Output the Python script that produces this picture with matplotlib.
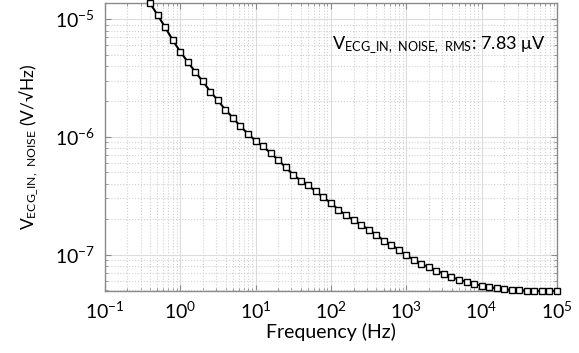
import numpy as np
import matplotlib
matplotlib.use("Agg")
import matplotlib.pyplot as plt
from matplotlib.ticker import LogLocator, NullFormatter

plt.rcParams['font.family'] = ['Lato', 'DejaVu Sans']
plt.rcParams['mathtext.fontset'] = 'custom'
plt.rcParams['mathtext.rm'] = 'Lato'
plt.rcParams['axes.unicode_minus'] = False

# sampling grid: 10 points per decade, 0.4 Hz .. 100 kHz
freq = np.logspace(-0.4, 5, 55)

# input-referred noise density (V/sqrt(Hz))
noise = [1.368e-5, 1.086e-5, 8.55e-6, 6.67e-6, 5.31e-6, 4.35e-6, 3.57e-6,
         2.96e-6, 2.43e-6, 2.04e-6, 1.70e-6, 1.455e-6, 1.227e-6, 1.064e-6,
         9.27e-7, 8.30e-7, 7.30e-7, 6.40e-7, 5.51e-7, 4.78e-7, 4.25e-7,
         3.87e-7, 3.44e-7, 3.06e-7, 2.75e-7, 2.41e-7, 2.17e-7, 1.96e-7,
         1.80e-7, 1.63e-7, 1.48e-7, 1.315e-7, 1.216e-7, 1.10e-7, 9.86e-8,
         9.08e-8, 8.34e-8, 7.80e-8, 7.31e-8, 6.90e-8, 6.41e-8, 6.14e-8,
         5.86e-8, 5.64e-8, 5.42e-8, 5.28e-8, 5.18e-8, 5.08e-8, 5.01e-8,
         4.98e-8, 4.95e-8, 4.92e-8, 4.92e-8, 4.92e-8, 4.92e-8]

rms_text = r'$\mathregular{V_{ECG\_IN,\ NOISE,\ RMS}}$: 7.83 μV'

fig = plt.figure(figsize=(5.79, 3.53), dpi=100)
ax = fig.add_axes([0.181, 0.176, 0.781, 0.815])

ax.plot(freq, noise, color='black', linewidth=1.5, marker='s', markersize=4.3,
        markerfacecolor='white', markeredgecolor='black', markeredgewidth=1.0,
        clip_on=False, zorder=3)

ax.set_xscale('log')
ax.set_yscale('log')
ax.set_xlim(1e-1, 1e5)
ax.set_ylim(4.92e-8, 1.368e-5)

ax.xaxis.set_major_locator(LogLocator(base=10, numticks=10))
ax.xaxis.set_minor_locator(LogLocator(base=10, subs=np.arange(2, 10), numticks=20))
ax.yaxis.set_major_locator(LogLocator(base=10, numticks=10))
ax.yaxis.set_minor_locator(LogLocator(base=10, subs=np.arange(2, 10), numticks=20))
ax.xaxis.set_minor_formatter(NullFormatter())
ax.yaxis.set_minor_formatter(NullFormatter())

ax.grid(True, which='major', color='#dcdcdc', linestyle='-', linewidth=0.8)
ax.grid(True, which='minor', color='#d0d0d0', linestyle=':', linewidth=0.8)
ax.set_axisbelow(True)

for s in ax.spines.values():
    s.set_color('#8a8a8a')
    s.set_linewidth(1.0)

ax.tick_params(which='both', direction='in', top=True, right=True, color='#8a8a8a')
ax.tick_params(which='major', length=4, labelsize=14, pad=7)
ax.tick_params(which='minor', length=2)

ax.set_xlabel('Frequency (Hz)', fontsize=14, labelpad=1)
ax.set_ylabel(r'$\mathregular{V_{ECG\_IN,\ NOISE}}$ (V/√Hz)', fontsize=12.5, labelpad=10)

ax.text(0.975, 0.855, rms_text, transform=ax.transAxes, ha='right', va='center',
        fontsize=13)

fig.savefig('out.png', dpi=100)
